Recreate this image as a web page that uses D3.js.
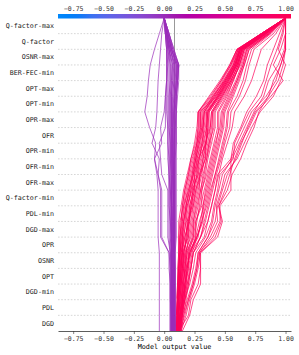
<!DOCTYPE html>
<html>
<head>
<meta charset="utf-8">
<script src="https://cdn.jsdelivr.net/npm/d3@7"></script>
<style>
    body { margin: 0; background: #fff; }
    text { font-family: "DejaVu Sans Mono", monospace; }
</style>
</head>
<body>
<div id="chart"></div>
<script>
// features, top to bottom as shown on the plot
const features = ["Q-factor-max", "Q-factor", "OSNR-max", "BER-FEC-min", "OPT-max", "OPT-min",
    "OPR-max", "OFR", "OPR-min", "OFR-min", "OFR-max", "Q-factor-min", "PDL-min", "DGD-max",
    "OPR", "OSNR", "OPT", "DGD-min", "PDL", "DGD"];

const baseValue = 0.085;
const xTicks = [-0.75, -0.5, -0.25, 0, 0.25, 0.5, 0.75, 1.0];

// cumulative model output per observation, from the bottom (start) up to the top (final output)
const redPaths = [
    [0.10,0.11,0.11,0.12,0.12,0.13,0.13,0.14,0.15,0.17,0.20,0.23,0.27,0.29,0.29,0.40,0.50,0.57,0.62,0.81,1.0],
    [0.11,0.12,0.12,0.13,0.14,0.15,0.15,0.16,0.18,0.21,0.24,0.26,0.28,0.30,0.30,0.42,0.51,0.58,0.63,0.82,1.0],
    [0.10,0.10,0.11,0.11,0.12,0.12,0.12,0.13,0.16,0.20,0.24,0.28,0.32,0.35,0.35,0.45,0.53,0.60,0.64,0.83,1.0],
    [0.12,0.13,0.14,0.15,0.16,0.17,0.22,0.24,0.27,0.30,0.33,0.35,0.38,0.40,0.40,0.48,0.55,0.61,0.65,0.84,1.0],
    [0.11,0.12,0.13,0.14,0.15,0.16,0.18,0.19,0.21,0.24,0.27,0.30,0.34,0.37,0.37,0.46,0.54,0.59,0.62,0.81,1.0],
    [0.13,0.15,0.16,0.18,0.19,0.21,0.28,0.30,0.32,0.34,0.37,0.40,0.43,0.45,0.45,0.52,0.57,0.62,0.66,0.85,1.0],
    [0.10,0.11,0.12,0.12,0.13,0.13,0.14,0.16,0.19,0.23,0.25,0.27,0.30,0.32,0.33,0.41,0.49,0.56,0.61,0.80,1.0],
    [0.12,0.13,0.15,0.16,0.17,0.19,0.25,0.27,0.29,0.31,0.34,0.36,0.39,0.42,0.42,0.50,0.56,0.63,0.67,0.85,1.0],
    [0.11,0.12,0.12,0.13,0.14,0.14,0.16,0.18,0.20,0.22,0.26,0.29,0.31,0.33,0.34,0.44,0.52,0.60,0.65,0.84,1.0],
    [0.10,0.10,0.11,0.12,0.12,0.13,0.13,0.15,0.17,0.19,0.22,0.25,0.28,0.31,0.31,0.43,0.50,0.57,0.61,0.80,1.0],
    [0.12,0.14,0.15,0.17,0.18,0.20,0.24,0.26,0.30,0.33,0.36,0.39,0.42,0.46,0.47,0.53,0.59,0.64,0.68,0.86,1.0],
    [0.11,0.11,0.12,0.13,0.13,0.14,0.15,0.17,0.19,0.22,0.24,0.26,0.29,0.31,0.32,0.40,0.48,0.55,0.60,0.80,1.0],
    [0.13,0.14,0.16,0.17,0.19,0.21,0.26,0.29,0.33,0.36,0.39,0.42,0.45,0.48,0.49,0.55,0.60,0.65,0.69,0.86,1.0],
    [0.10,0.11,0.11,0.12,0.13,0.13,0.14,0.15,0.16,0.18,0.21,0.24,0.27,0.28,0.28,0.39,0.47,0.54,0.60,0.80,1.0],
    [0.11,0.13,0.14,0.15,0.16,0.18,0.21,0.23,0.25,0.28,0.31,0.33,0.36,0.38,0.39,0.47,0.54,0.60,0.64,0.83,1.0],
    [0.12,0.13,0.14,0.16,0.17,0.18,0.20,0.22,0.24,0.26,0.29,0.32,0.35,0.36,0.36,0.44,0.52,0.58,0.63,0.82,1.0],
    [0.10,0.11,0.12,0.13,0.14,0.15,0.17,0.20,0.23,0.26,0.30,0.34,0.37,0.41,0.41,0.49,0.56,0.62,0.66,0.84,1.0],
    [0.11,0.12,0.13,0.14,0.15,0.16,0.19,0.21,0.22,0.25,0.28,0.31,0.33,0.35,0.36,0.45,0.53,0.59,0.63,0.82,1.0],
    [0.14,0.16,0.18,0.20,0.22,0.24,0.30,0.33,0.36,0.39,0.42,0.45,0.48,0.51,0.52,0.57,0.62,0.66,0.70,0.87,1.0],
    [0.10,0.10,0.11,0.11,0.12,0.12,0.13,0.14,0.15,0.17,0.20,0.22,0.25,0.27,0.28,0.38,0.47,0.55,0.61,0.81,1.0],
    [0.12,0.14,0.15,0.16,0.17,0.19,0.23,0.25,0.28,0.30,0.32,0.35,0.37,0.39,0.40,0.48,0.55,0.61,0.65,0.83,1.0],
    [0.11,0.12,0.13,0.14,0.15,0.17,0.18,0.20,0.24,0.27,0.30,0.32,0.34,0.36,0.37,0.46,0.53,0.60,0.64,0.83,1.0],
    [0.13,0.15,0.17,0.19,0.21,0.23,0.27,0.31,0.34,0.37,0.40,0.43,0.46,0.49,0.50,0.56,0.61,0.66,0.70,0.87,1.0],
    [0.10,0.11,0.11,0.12,0.12,0.13,0.15,0.16,0.18,0.21,0.23,0.26,0.29,0.32,0.33,0.42,0.50,0.58,0.63,0.82,1.0],
    [0.09,0.10,0.10,0.11,0.11,0.12,0.12,0.12,0.14,0.16,0.19,0.22,0.26,0.28,0.28,0.37,0.46,0.54,0.60,0.80,1.0],
    [0.12,0.12,0.13,0.13,0.15,0.15,0.20,0.20,0.22,0.25,0.25,0.29,0.32,0.32,0.33,0.43,0.51,0.58,0.62,0.81,1.0],
    [0.11,0.11,0.14,0.14,0.16,0.16,0.19,0.19,0.23,0.23,0.28,0.28,0.35,0.35,0.36,0.45,0.52,0.59,0.63,0.82,1.0],
    [0.13,0.13,0.15,0.15,0.18,0.18,0.24,0.24,0.26,0.29,0.29,0.34,0.34,0.38,0.39,0.47,0.55,0.61,0.64,0.83,1.0],
    [0.10,0.12,0.12,0.12,0.14,0.14,0.17,0.21,0.21,0.24,0.27,0.27,0.31,0.34,0.35,0.44,0.51,0.59,0.64,0.83,1.0],
    [0.12,0.15,0.15,0.18,0.18,0.22,0.26,0.26,0.31,0.31,0.35,0.38,0.41,0.44,0.44,0.51,0.57,0.62,0.66,0.84,1.0],
    [0.14,0.14,0.17,0.17,0.20,0.20,0.27,0.32,0.32,0.35,0.38,0.41,0.44,0.47,0.48,0.54,0.60,0.65,0.68,0.86,1.0],
    [0.11,0.11,0.11,0.13,0.13,0.15,0.16,0.18,0.18,0.20,0.23,0.25,0.27,0.30,0.30,0.41,0.49,0.57,0.62,0.81,1.0],
    [0.12,0.14,0.16,0.18,0.20,0.22,0.30,0.34,0.37,0.40,0.43,0.47,0.50,0.54,0.55,0.62,0.67,0.70,0.74,0.90,1.0],
    [0.11,0.13,0.15,0.17,0.19,0.21,0.27,0.31,0.35,0.38,0.42,0.46,0.49,0.52,0.53,0.60,0.65,0.68,0.72,0.88,1.0],
    [0.13,0.15,0.17,0.20,0.22,0.24,0.33,0.36,0.39,0.42,0.45,0.48,0.52,0.56,0.58,0.66,0.72,0.76,0.80,0.92,1.0],
    [0.12,0.20,0.22,0.28,0.30,0.29,0.40,0.46,0.46,0.55,0.55,0.55,0.60,0.66,0.72,0.84,0.92,0.96,1.0,1.0,1.0],
    [0.14,0.18,0.21,0.25,0.28,0.30,0.42,0.47,0.45,0.50,0.54,0.58,0.63,0.70,0.76,0.88,0.98,0.90,0.96,1.0,1.0],
    [0.11,0.15,0.19,0.23,0.26,0.28,0.36,0.40,0.42,0.45,0.48,0.56,0.62,0.68,0.74,0.82,0.86,0.94,0.99,1.0,1.0],
    [0.13,0.16,0.20,0.24,0.27,0.29,0.38,0.44,0.43,0.47,0.50,0.60,0.66,0.72,0.79,0.90,0.96,1.0,0.94,0.98,1.0],
    [0.12,0.14,0.17,0.21,0.24,0.26,0.34,0.39,0.41,0.44,0.46,0.57,0.58,0.64,0.70,0.80,0.84,0.88,0.93,0.97,1.0],
    [0.15,0.21,0.24,0.30,0.30,0.30,0.44,0.48,0.45,0.52,0.56,0.63,0.68,0.74,0.78,0.86,0.94,0.98,1.0,1.0,1.0],
    [0.11,0.13,0.16,0.19,0.22,0.24,0.30,0.36,0.39,0.42,0.44,0.55,0.57,0.63,0.68,0.76,0.82,0.85,0.90,0.95,1.0],
    [0.13,0.17,0.20,0.24,0.27,0.28,0.36,0.42,0.44,0.48,0.52,0.59,0.64,0.69,0.75,0.86,0.90,0.96,1.0,1.0,1.0]
];

const purplePaths = [
    [0.08,0.08,0.08,0.08,0.08,0.08,0.09,0.09,0.09,0.09,0.09,0.09,0.09,0.09,0.10,0.10,0.11,0.12,0.07,0.03,0.0],
    [0.07,0.07,0.07,0.07,0.07,0.07,0.08,0.08,0.08,0.08,0.08,0.08,0.08,0.09,0.09,0.10,0.11,0.11,0.06,0.03,0.0],
    [0.06,0.06,0.06,0.06,0.06,0.06,0.06,0.06,0.06,0.06,0.06,0.06,0.06,0.06,0.06,0.06,0.07,0.08,0.05,0.02,0.0],
    [0.09,0.09,0.09,0.09,0.09,0.09,0.09,0.09,0.09,0.09,0.09,0.09,0.10,0.10,0.10,0.11,0.12,0.12,0.07,0.04,0.0],
    [0.05,0.05,0.05,0.05,0.05,0.05,0.05,0.05,0.05,0.05,0.04,0.04,0.04,0.04,0.04,0.04,0.04,0.04,0.03,0.01,0.0],
    [0.07,0.07,0.07,0.07,0.07,0.07,0.07,0.07,0.07,0.07,0.07,0.07,0.07,0.07,0.07,0.08,0.09,0.10,0.06,0.03,0.0],
    [0.08,0.08,0.08,0.08,0.08,0.08,0.08,0.08,0.08,0.08,0.08,0.07,0.07,0.07,0.07,0.07,0.08,0.09,0.05,0.02,0.0],
    [0.06,0.06,0.06,0.06,0.06,0.06,0.06,0.05,0.05,0.05,0.05,0.05,0.05,0.05,0.05,0.05,0.06,0.06,0.04,0.02,0.0],
    [0.09,0.09,0.09,0.09,0.09,0.09,0.09,0.09,0.09,0.09,0.09,0.09,0.09,0.09,0.09,0.09,0.10,0.10,0.06,0.03,0.0],
    [0.07,0.07,0.07,0.07,0.07,0.07,0.07,0.07,0.06,0.06,0.06,0.06,0.06,0.06,0.06,0.06,0.06,0.07,0.04,0.02,0.0],
    [0.08,0.08,0.08,0.08,0.08,0.08,0.08,0.08,0.08,0.08,0.08,0.08,0.08,0.08,0.08,0.09,0.10,0.11,0.07,0.04,0.0],
    [0.06,0.06,0.06,0.06,0.06,0.06,0.05,0.05,0.04,0.04,0.04,0.04,0.03,0.03,0.03,0.03,0.03,0.03,0.02,0.01,0.0],
    [0.05,0.05,0.05,0.05,0.05,0.05,0.04,0.04,0.04,0.04,0.04,0.03,0.03,0.03,0.02,0.02,0.02,0.02,0.02,0.01,0.0],
    [0.08,0.08,0.08,0.08,0.08,0.08,0.08,0.08,0.08,0.07,0.07,0.07,0.07,0.07,0.07,0.07,0.08,0.08,0.05,0.02,0.0],
    [0.09,0.09,0.09,0.09,0.09,0.09,0.10,0.10,0.10,0.10,0.10,0.10,0.10,0.10,0.10,0.10,0.11,0.12,0.08,0.04,0.0],
    [0.07,0.07,0.07,0.07,0.07,0.06,0.06,0.06,0.06,0.06,0.06,0.05,0.05,0.05,0.05,0.05,0.05,0.05,0.04,0.02,0.0],
    [0.07,0.07,0.07,0.07,0.07,0.07,0.07,0.07,0.07,0.08,0.08,0.08,0.08,0.08,0.08,0.09,0.10,0.10,0.06,0.03,0.0],
    [0.08,0.08,0.08,0.08,0.08,0.08,0.08,0.08,0.08,0.08,0.08,0.08,0.09,0.09,0.09,0.10,0.11,0.12,0.08,0.04,0.0],
    [0.06,0.06,0.06,0.06,0.06,0.06,0.06,0.06,0.06,0.05,0.05,0.05,0.05,0.04,0.04,0.04,0.05,0.05,0.03,0.02,0.0],
    [0.09,0.09,0.09,0.09,0.09,0.08,0.08,0.08,0.08,0.08,0.08,0.08,0.08,0.08,0.08,0.08,0.09,0.09,0.05,0.02,0.0],
    [0.07,0.07,0.07,0.07,0.06,0.06,0.06,0.06,0.06,0.06,0.07,0.07,0.07,0.07,0.08,0.09,0.10,0.11,0.06,0.03,0.0],
    [0.08,0.08,0.08,0.08,0.08,0.07,0.07,0.07,0.07,0.07,0.07,0.06,0.06,0.06,0.06,0.06,0.07,0.07,0.04,0.01,0.0],
    [-0.04,-0.04,-0.04,-0.04,-0.04,-0.04,-0.05,-0.05,-0.05,-0.05,-0.06,-0.08,-0.07,-0.12,-0.16,-0.14,-0.13,-0.115,-0.08,-0.04,0.0],
    [0.06,0.06,0.05,0.05,0.04,0.04,-0.03,-0.03,-0.03,-0.03,-0.05,-0.04,-0.10,-0.07,-0.06,-0.055,-0.05,-0.04,-0.03,-0.02,0.0],
    [0.05,0.05,0.05,0.05,0.05,0.04,-0.02,-0.02,-0.02,-0.02,-0.05,-0.08,-0.02,-0.03,0.0,0.01,0.02,0.03,0.03,0.02,0.0],
    [0.06,0.06,0.06,0.06,0.06,0.05,0.03,0.03,0.03,0.03,-0.02,-0.03,-0.04,0.01,0.01,0.01,0.02,0.02,0.02,0.01,0.0]
];

const W = 299, H = 355;
const margin = {top: 18, right: 8, bottom: 24, left: 58};
const xlim = [baseValue - 0.96, baseValue + 0.96];

// shap red_blue: LCH path from blue to red with a darker middle
function redBlue(t) {
    t = Math.max(0, Math.min(1, t));
    const l = t < 0.5 ? 54 + (40 - 54) * (t / 0.5) : 40 + (54 - 40) * ((t - 0.5) / 0.5);
    const c = 70 + 20 * t;
    const h = 266.93 + (380.32 - 266.93) * t;
    return d3.hcl(h, c, l).formatHex();
}

const svg = d3.select("#chart").append("svg")
    .attr("width", W)
    .attr("height", H);

const x = d3.scaleLinear().domain(xlim).range([margin.left, W - margin.right]);
const y = d3.scaleLinear().domain([0, features.length]).range([H - margin.bottom, margin.top]);
const colorOf = v => redBlue((v - xlim[0]) / (xlim[1] - xlim[0]));

// dashed grid lines
svg.append("g").selectAll("line")
    .data(d3.range(1, features.length))
    .enter()
    .append("line")
    .attr("x1", x.range()[0])
    .attr("x2", x.range()[1])
    .attr("y1", d => y(d))
    .attr("y2", d => y(d))
    .attr("stroke", "#bbb")
    .attr("stroke-width", 0.6)
    .attr("stroke-dasharray", "1.6,1.6");

// base value line
svg.append("line")
    .attr("x1", x(baseValue))
    .attr("x2", x(baseValue))
    .attr("y1", y(0))
    .attr("y2", y(features.length))
    .attr("stroke", "#999")
    .attr("stroke-width", 1);

const line = d3.line()
    .x(d => x(d))
    .y((d, i) => y(i));

svg.append("g").selectAll("path")
    .data(redPaths.concat(purplePaths))
    .enter()
    .append("path")
    .attr("d", line)
    .attr("fill", "none")
    .attr("stroke", d => colorOf(d[d.length - 1]))
    .attr("stroke-opacity", 0.7)
    .attr("stroke-width", 1);

// feature labels
svg.append("g").selectAll("text")
    .data(features)
    .enter()
    .append("text")
    .attr("x", margin.left - 4)
    .attr("y", (d, i) => y(features.length - i - 0.5))
    .attr("dy", "0.35em")
    .attr("text-anchor", "end")
    .attr("font-size", 6.7)
    .attr("fill", "#222")
    .text(d => d);

// bottom axis
const fmt = d3.format(".2f");
const xAxis = svg.append("g")
    .attr("transform", `translate(0, ${y(0)})`)
    .call(d3.axisBottom(x).tickValues(xTicks).tickFormat(fmt).tickSize(3).tickPadding(2).tickSizeOuter(0));
xAxis.select(".domain").attr("stroke", "#333").attr("stroke-width", 0.8);
xAxis.selectAll(".tick line").attr("stroke", "#333").attr("stroke-width", 0.6);
xAxis.selectAll("text")
    .attr("font-family", "DejaVu Sans Mono")
    .attr("font-size", 6.5)
    .attr("fill", "#333");

svg.append("text")
    .attr("x", x(baseValue))
    .attr("y", H - 6)
    .attr("text-anchor", "middle")
    .attr("font-size", 6.8)
    .attr("fill", "#000")
    .text("Model output value");

// colour bar on top
const grad = svg.append("defs").append("linearGradient")
    .attr("id", "cbar")
    .attr("x1", "0%").attr("x2", "100%");
d3.range(0, 1.0001, 0.05).forEach(t => {
    grad.append("stop").attr("offset", (t * 100) + "%").attr("stop-color", redBlue(t));
});
svg.append("rect")
    .attr("x", x.range()[0])
    .attr("y", 14)
    .attr("width", x.range()[1] - x.range()[0])
    .attr("height", 4.5)
    .attr("fill", "url(#cbar)");

const topAxis = svg.append("g")
    .attr("transform", "translate(0, 14)")
    .call(d3.axisTop(x).tickValues(xTicks).tickFormat(fmt).tickSize(0).tickPadding(3));
topAxis.select(".domain").remove();
topAxis.selectAll("text")
    .attr("font-family", "DejaVu Sans Mono")
    .attr("font-size", 6.5)
    .attr("fill", "#333");
</script>
</body>
</html>
